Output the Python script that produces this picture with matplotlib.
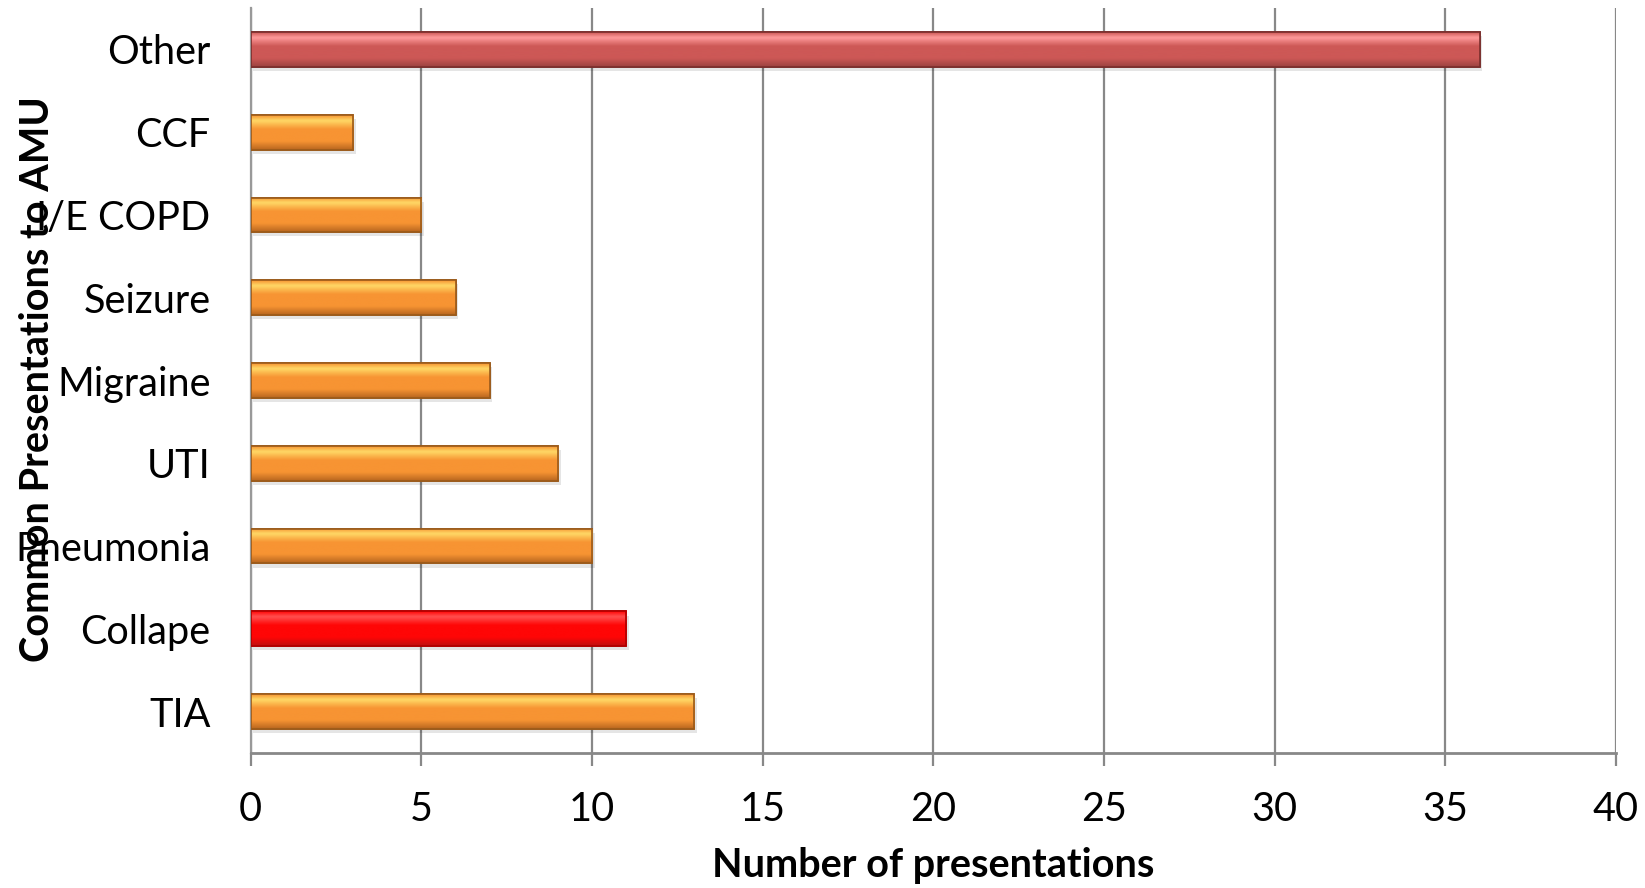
import numpy as np
import matplotlib
matplotlib.use("Agg")
import matplotlib.pyplot as plt
from matplotlib.colors import LinearSegmentedColormap
from matplotlib.patches import Rectangle

# data (bottom to top)
categories = ["TIA", "Collape", "Pneumonia", "UTI", "Migraine", "Seizure", "I/E COPD", "CCF", "Other"]
counts = [13, 11, 10, 9, 7, 6, 5, 3, 36]
x_ticks = [0, 5, 10, 15, 20, 25, 30, 35, 40]

# bar styles: (top highlight, main, bottom shade, edge)
ORANGE = ("#ffd966", "#f79433", "#b8661f", "#9a5a1a")
RED = ("#ff5050", "#ff0606", "#c01010", "#b00000")
ROSE = ("#ff9a9a", "#cd5856", "#9c4340", "#7a2e2c")
bar_styles = [ORANGE, RED, ORANGE, ORANGE, ORANGE, ORANGE, ORANGE, ORANGE, ROSE]

plt.rcParams["font.family"] = ["Lato", "DejaVu Sans"]

fig = plt.figure(figsize=(16.45, 8.88), dpi=100)
ax = fig.add_axes([0.1524, 0.152, 0.830, 0.839])

ypos = np.arange(len(categories))
bar_h = 0.42
grad = np.linspace(0, 1, 64).reshape(-1, 1)

for y, v, st in zip(ypos, counts, bar_styles):
    # soft shadow
    ax.add_patch(Rectangle((0.08, y - bar_h / 2 - 0.05), v, bar_h, facecolor="#000000",
                           alpha=0.10, edgecolor="none", zorder=2))
    rect = ax.barh(y, v, height=bar_h, color=st[1], edgecolor=st[3], linewidth=1.2, zorder=3)[0]
    cmap = LinearSegmentedColormap.from_list("b", [(0, st[2]), (0.25, st[1]), (0.6, st[1]),
                                                   (0.85, st[0]), (1, st[1])])
    im = ax.imshow(grad, extent=[0, v, y - bar_h / 2, y + bar_h / 2], origin="lower",
                   aspect="auto", cmap=cmap, zorder=4, interpolation="bicubic")
    im.set_clip_path(rect)
    ax.barh(y, v, height=bar_h, color="none", edgecolor=st[3], linewidth=1.2, zorder=5)

ax.set_xlim(0, 40)
ax.set_ylim(-0.5, len(categories) - 0.5)
ax.set_xticks(x_ticks)
ax.set_yticks(ypos)
ax.set_yticklabels(categories)

ax.grid(axis="x", color="#888888", linewidth=1.6, zorder=0)
ax.set_axisbelow(True)
for s in ["top", "right"]:
    ax.spines[s].set_visible(False)
ax.spines["left"].set_color("#999999")
ax.spines["left"].set_linewidth(1.6)
ax.spines["bottom"].set_color("#888888")
ax.spines["bottom"].set_linewidth(2.0)

ax.tick_params(axis="x", length=9, width=1.6, color="#888888", labelsize=28.5, pad=18)
ax.tick_params(axis="y", length=0, labelsize=28.5, pad=29)

fig.text(0.0225, 0.573, "Common Presentations to AMU", rotation=90, ha="center", va="center",
         fontsize=28.5, fontweight="bold")
fig.text(0.567, 0.025, "Number of presentations", ha="center", va="center",
         fontsize=28.5, fontweight="bold")

fig.savefig("out.png", dpi=100, facecolor="white")
